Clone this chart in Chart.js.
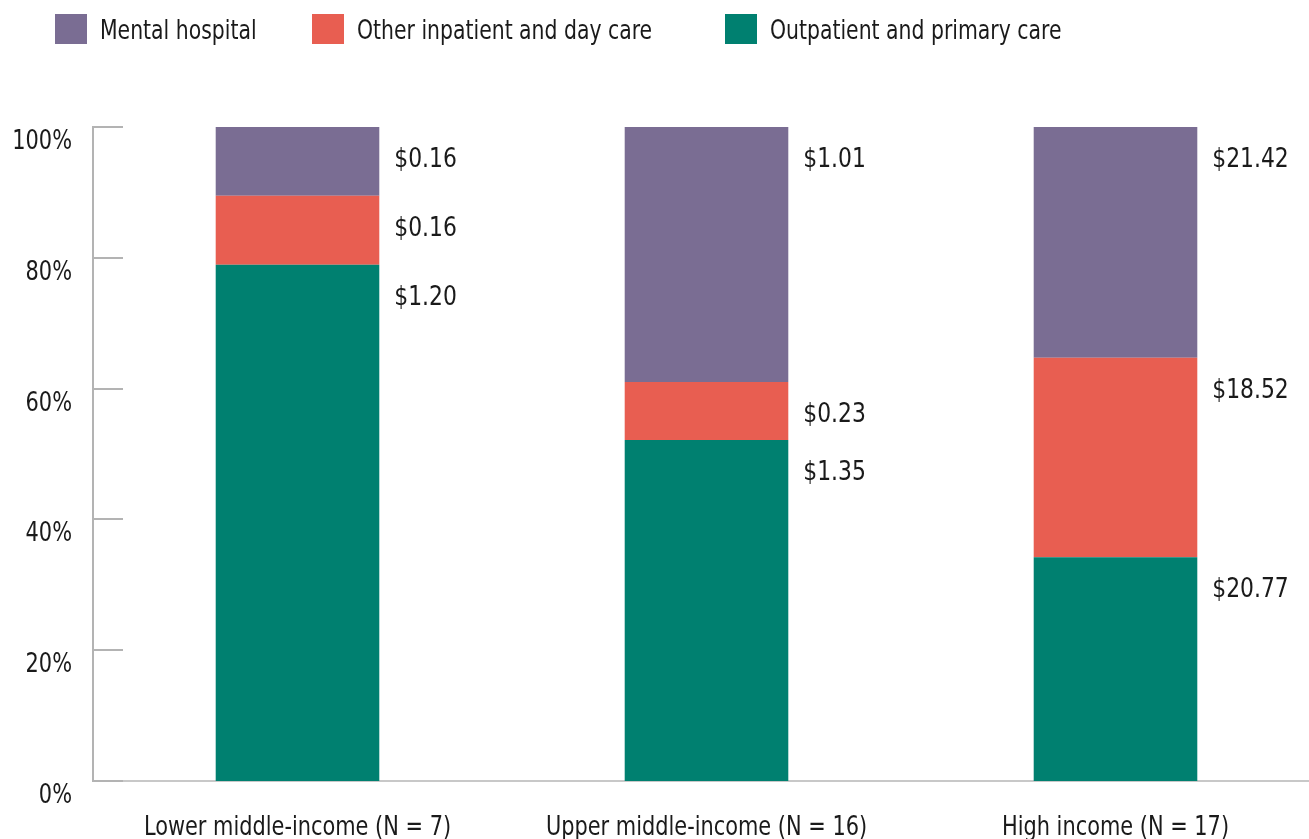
<!DOCTYPE html>
<html>
<head>
<meta charset="utf-8">
<script src="https://cdn.jsdelivr.net/npm/chart.js@4.4.1/dist/chart.umd.min.js"></script>
<style>
    html, body { margin: 0; padding: 0; background: #ffffff; overflow: hidden; }
    body { width: 1309px; height: 839px; position: relative; }
    #legend { position: absolute; top: 0; left: 0; width: 1309px; height: 70px; z-index: 2; }
    .legend-item {
        position: absolute; top: 14px; height: 30px; display: flex; align-items: center;
        font-family: "Liberation Sans Narrow", "DejaVu Sans Condensed", "Liberation Sans", sans-serif;
        font-size: 27px; color: #1a1a1a; white-space: nowrap;
    }
    .legend-box { width: 32px; height: 30px; margin-right: 13px; flex: none; }
    /* the reference uses a narrow face, squeeze the text a bit */
    .legend-text { display: inline-block; transform: scaleX(0.84); transform-origin: left center; }
    #chartWrap { position: absolute; top: 0; left: 0; width: 1320px; height: 839px; }
</style>
</head>
<body>
<div id="legend"></div>
<div id="chartWrap"><canvas id="spendChart" width="1320" height="839"></canvas></div>
<script>
// --- Data (US$ per capita, by income group) ---
const categories = ["Lower middle-income (N = 7)", "Upper middle-income (N = 16)", "High income (N = 17)"];
const outpatientCare = [1.20, 1.35, 20.77];
const otherInpatientCare = [0.16, 0.23, 18.52];
const mentalHospital = [0.16, 1.01, 21.42];
const yTicks = [0, 20, 40, 60, 80, 100];

const seriesNames = ["Outpatient and primary care", "Other inpatient and day care", "Mental hospital"];
const seriesColors = ["#008070", "#e85e51", "#7a6d93"];

const FONT = '"Liberation Sans Narrow", "DejaVu Sans Condensed", "Liberation Sans", sans-serif';
const TEXT_COLOR = "#1a1a1a";

// share of each series in the group total (100% stacked)
const seriesValues = [outpatientCare, otherInpatientCare, mentalHospital];
const totals = categories.map((c, i) => seriesValues.reduce((s, arr) => s + arr[i], 0));
const toShare = arr => arr.map((v, i) => v / totals[i] * 100);

// --- HTML legend (top row, mental hospital first) ---
const legendEl = document.getElementById("legend");
const legendLeft = [725, 312, 55];
seriesNames.forEach((name, i) => {
    const item = document.createElement("div");
    item.className = "legend-item";
    item.style.left = legendLeft[i] + "px";
    item.innerHTML = `<span class="legend-box" style="background:${seriesColors[i]}"></span><span class="legend-text">${name}</span>`;
    legendEl.appendChild(item);
});

// draw text squeezed horizontally (narrow look)
function narrowText(ctx, text, x, y, squeeze) {
    ctx.save();
    ctx.translate(x, y);
    ctx.scale(squeeze, 1);
    ctx.fillText(text, 0, 0);
    ctx.restore();
}

// --- Plugin: inward tick marks + tick labels for both axes ---
const axisLabels = {
    id: "axisLabels",
    afterDraw(chart) {
        const ctx = chart.ctx;
        const x = chart.scales.x;
        const y = chart.scales.y;
        const x0 = chart.chartArea.left;
        ctx.save();
        ctx.strokeStyle = "#b3b3b3";
        ctx.lineWidth = 2;
        yTicks.forEach(t => {
            const py = Math.round(y.getPixelForValue(t));
            ctx.beginPath();
            ctx.moveTo(x0, py);
            ctx.lineTo(x0 + 30, py);
            ctx.stroke();
        });

        ctx.font = `27px ${FONT}`;
        ctx.fillStyle = TEXT_COLOR;
        ctx.textBaseline = "alphabetic";
        // y labels sit just below their tick
        ctx.textAlign = "right";
        yTicks.forEach(t => {
            narrowText(ctx, t + "%", 72, y.getPixelForValue(t) + 22, 0.86);
        });
        // category labels
        ctx.textAlign = "center";
        categories.forEach((c, i) => {
            narrowText(ctx, c, x.getPixelForTick(i), chart.chartArea.bottom + 54, 0.86);
        });
        ctx.restore();
    }
};

// --- Plugin: dollar labels to the right of each segment ---
const valueLabels = {
    id: "valueLabels",
    afterDatasetsDraw(chart) {
        const ctx = chart.ctx;
        ctx.save();
        ctx.font = `27px ${FONT}`;
        ctx.fillStyle = TEXT_COLOR;
        ctx.textAlign = "left";
        ctx.textBaseline = "middle";
        chart.data.datasets.forEach((ds, di) => {
            const meta = chart.getDatasetMeta(di);
            meta.data.forEach((bar, i) => {
                const right = bar.x + bar.width / 2;
                narrowText(ctx, "$" + seriesValues[di][i].toFixed(2), right + 15, bar.y + 33, 0.9);
            });
        });
        ctx.restore();
    }
};

const ctx = document.getElementById("spendChart").getContext("2d");
new Chart(ctx, {
    type: "bar",
    data: {
        labels: categories,
        datasets: seriesNames.map((name, i) => ({
            label: name,
            data: toShare(seriesValues[i]),
            backgroundColor: seriesColors[i],
            borderWidth: 0,
            categoryPercentage: 1.0,
            barPercentage: 0.4
        }))
    },
    options: {
        responsive: false,
        animation: false,
        layout: { padding: { top: 127, left: 0, right: 0, bottom: 0 } },
        plugins: {
            legend: { display: false },
            tooltip: { enabled: false }
        },
        scales: {
            x: {
                stacked: true,
                grid: { display: false, drawTicks: false },
                border: { display: true, color: "#c8c8c8", width: 2 },
                ticks: { display: false },
                afterFit(scale) { scale.height = 58; }
            },
            y: {
                stacked: true,
                min: 0,
                max: 100,
                grid: { display: false, drawTicks: false },
                border: { display: true, color: "#b3b3b3", width: 2 },
                ticks: { display: false, stepSize: 20 },
                afterFit(scale) { scale.width = 93; }
            }
        }
    },
    plugins: [axisLabels, valueLabels]
});
</script>
</body>
</html>
